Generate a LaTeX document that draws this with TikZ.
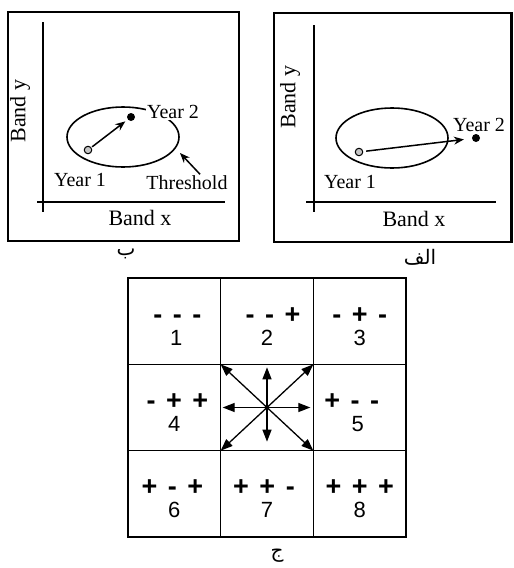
\documentclass[tikz,border=0pt]{standalone}
\usepackage{fontspec}
\setmainfont{Liberation Serif}
\newfontfamily\gridfont{Liberation Sans}
\newfontfamily\arabicfont[Script=Arabic]{DejaVu Sans}
\TeXXeTstate=1
\usetikzlibrary{arrows.meta,positioning}

\newcommand{\fsz}[1]{\fontsize{#1}{#1}\selectfont}
\newcommand{\gp}{\hspace{10.5pt}}

\tikzset{
  panel/.style={draw, line width=2.8pt},
  axis/.style={line width=1.6pt},
  ring/.style={line width=1.6pt},
  lbl/.style={font=\fsz{20}, inner sep=1.5pt},
  bandlbl/.style={font=\fsz{22}, inner sep=1pt},
  oldpt/.style={circle, draw, line width=1pt, fill=gray!45, minimum size=7.5pt, inner sep=0pt},
  newpt/.style={circle, fill=black, minimum size=8pt, inner sep=0pt},
  move/.style={line width=1.5pt, -{Stealth[length=10pt,width=8pt]}},
  cell/.style={draw, line width=1.3pt, minimum width=92.67pt, minimum height=86.33pt, inner sep=0pt, outer sep=0pt},
  sgnlbl/.style={font=\gridfont\bfseries\fsz{27}, inner sep=0pt, anchor=base},
  numlbl/.style={font=\gridfont\fsz{22}, inner sep=0pt, anchor=base},
  dirarr/.style={line width=1.3pt, -{Triangle[length=12pt,width=9pt]}},
  arlbl/.style={font=\arabicfont\fsz{20}, inner sep=0pt},
}

\begin{document}
\begin{tikzpicture}[x=1pt, y=-1pt]
    \useasboundingbox (0,0) rectangle (514,568);

    % Left panel: change inside the threshold
    \draw[panel] (8,12) rectangle (239,241);
    \draw[axis] (43,22) -- (43,212);
    \draw[axis] (37,202) -- (225,202);
    \node[bandlbl, rotate=90] (byl) at (20,111) {Band y};
    \node[bandlbl] (bxl) at (140,218) {Band x};
    \draw[ring] (123,137) ellipse [x radius=56, y radius=30];
    \node[lbl, fill=white] (y2l) at (173,112) {Year 2};
    \node[oldpt] (p1l) at (88,150) {};
    \node[newpt] (p2l) at (131,117) {};
    \draw[move, shorten >=3pt, shorten <=1pt] (p1l) -- (p2l);
    \node[lbl] (y1l) at (80,180) {Year 1};
    \node[lbl] (thr) at (187,183) {Threshold};
    \coordinate (thrtip) at (180,153);
    \draw[move] ([xshift=13pt]thr.north) -- (thrtip);
    \node[arlbl] (capb) at (126,254) {\beginR ب\endR};

    % Right panel: change beyond the threshold
    \draw[panel] (274,13) rectangle (511.5,242);
    \draw[axis] (314,25) -- (314,212);
    \draw[axis] (306,202) -- (496,202);
    \node[bandlbl, rotate=90] (byr) at (290,97) {Band y};
    \node[bandlbl] (bxr) at (414,219) {Band x};
    \draw[ring] (392,138) ellipse [x radius=56, y radius=30];
    \node[oldpt] (p1r) at (359,152) {};
    \node[newpt] (p2r) at (476,138) {};
    \draw[move, shorten >=8pt, shorten <=3pt] (p1r) -- (p2r);
    \node[lbl] (y2r) at (479,125) {Year 2};
    \node[lbl] (y1r) at (350,182) {Year 1};
    \node[arlbl] (capa) at (420,257) {\beginR الف\endR};

    % Sign grid
    \node[cell] (cell1) at (174.33,321.17) {};
    \node[cell, right=0pt of cell1] (cell2) {};
    \node[cell, right=0pt of cell2] (cell3) {};
    \node[cell, below=0pt of cell1] (cell4) {};
    \node[cell, right=0pt of cell4] (mid) {};
    \node[cell, right=0pt of mid] (cell5) {};
    \node[cell, below=0pt of cell4] (cell6) {};
    \node[cell, right=0pt of cell6] (cell7) {};
    \node[cell, right=0pt of cell7] (cell8) {};

    \node[sgnlbl] (s1) at ([xshift=3pt,yshift=-2pt]cell1.center) {-\gp-\gp-};
    \node[sgnlbl] (s2) at ([xshift=6pt,yshift=-2pt]cell2.center) {-\gp-\gp+};
    \node[sgnlbl] (s3) at ([yshift=-2pt]cell3.center) {-\gp+\gp-};
    \node[sgnlbl] (s4) at ([xshift=3pt,yshift=-2pt]cell4.center) {-\gp+\gp+};
    \node[sgnlbl] (s5) at ([xshift=-8pt,yshift=-2pt]cell5.center) {+\gp-\gp-};
    \node[sgnlbl] (s6) at ([xshift=-2pt,yshift=-2pt]cell6.center) {+\gp-\gp+};
    \node[sgnlbl] (s7) at ([xshift=-3pt,yshift=-2pt]cell7.center) {+\gp+\gp-};
    \node[sgnlbl] (s8) at ([yshift=-2pt]cell8.center) {+\gp+\gp+};

    \node[numlbl] (n1) at ([xshift=2pt,yshift=-24pt]cell1.center) {1};
    \node[numlbl] (n2) at ([yshift=-24pt]cell2.center) {2};
    \node[numlbl] (n3) at ([yshift=-24pt]cell3.center) {3};
    \node[numlbl] (n4) at ([yshift=-24pt]cell4.center) {4};
    \node[numlbl] (n5) at ([xshift=-2pt,yshift=-24pt]cell5.center) {5};
    \node[numlbl] (n6) at ([yshift=-24pt]cell6.center) {6};
    \node[numlbl] (n7) at ([yshift=-24pt]cell7.center) {7};
    \node[numlbl] (n8) at ([yshift=-24pt]cell8.center) {8};

    % Directions of change
    \draw[dirarr] (mid.center) -- (mid.north west);
    \draw[dirarr] (mid.center) -- (mid.north east);
    \draw[dirarr] (mid.center) -- (mid.south west);
    \draw[dirarr] (mid.center) -- (mid.south east);
    \draw[dirarr, shorten >=3pt] (mid.center) -- (mid.north);
    \draw[dirarr, shorten >=9pt] (mid.center) -- (mid.south);
    \draw[dirarr, shorten >=2pt] (mid.center) -- (mid.west);
    \draw[dirarr, shorten >=3pt] (mid.center) -- (mid.east);

    \node[arlbl] (capj) at (277,556) {\beginR ج\endR};
\end{tikzpicture}
\end{document}
